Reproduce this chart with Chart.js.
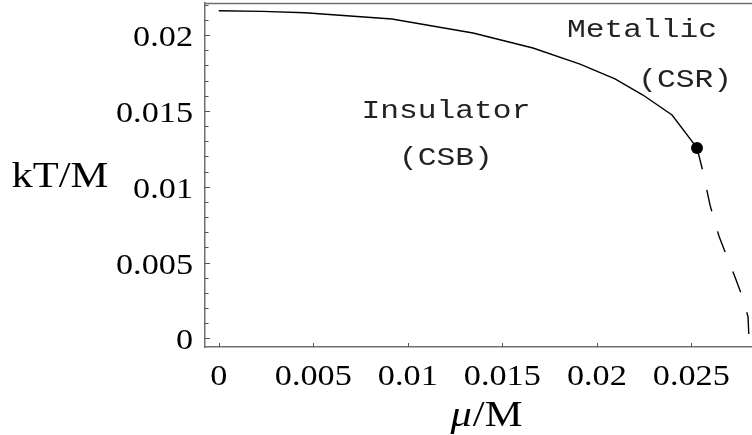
<!DOCTYPE html>
<html>
<head>
<meta charset="utf-8">
<script src="https://cdn.jsdelivr.net/npm/chart.js@4/dist/chart.umd.min.js"></script>
<style>
  html, body { margin: 0; padding: 0; background: #ffffff; }
  #wrap { width: 752px; height: 435px; }
</style>
</head>
<body>
<div id="wrap"><canvas id="c" width="752" height="435"></canvas></div>
<script>
// ---- data ----
const muSolid = [0, 0.0023, 0.00456, 0.00916, 0.01345, 0.01662, 0.01911, 0.02096, 0.02244, 0.02398, 0.0253];
const tSolid  = [0.02161, 0.02157, 0.02148, 0.02106, 0.02014, 0.01915, 0.01809, 0.01711, 0.01605, 0.01473, 0.01256];

const muDash = [0.0253, 0.02562, 0.02599, 0.02646, 0.02689, 0.02731, 0.02773, 0.0280, 0.02805];
const tDash  = [0.01256, 0.01097, 0.00879, 0.00675, 0.00536, 0.00404, 0.00266, 0.00141, 0.0];

const muCrit = [0.0253];
const tCrit  = [0.01256];

const xTicks = [0, 0.005, 0.01, 0.015, 0.02, 0.025];
const xTickLabels = ['0', '0.005', '0.01', '0.015', '0.02', '0.025'];
const yTicks = [0, 0.005, 0.01, 0.015, 0.02];
const yTickLabels = ['0', '0.005', '0.01', '0.015', '0.02'];
const yMinorTicks = [0.001, 0.002, 0.003, 0.004, 0.006, 0.007, 0.008, 0.009, 0.011, 0.012, 0.013, 0.014,
                     0.016, 0.017, 0.018, 0.019, 0.021, 0.022];

const xTitle = ['\u03bc', '/M'];
const yTitle = 'kT/M';

const regionLabels = ['Metallic', '(CSR)', 'Insulator', '(CSB)'];
const regionX = [0.02239, 0.02467, 0.01202, 0.01202];
const regionY = [0.01987, 0.01657, 0.01453, 0.01143];

// ---- helpers ----
const toXY = (xs, ys) => xs.map((x, i) => ({ x: x, y: ys[i] }));
const SERIF = '"Liberation Serif", "Times New Roman", serif';
const MONO = '"Liberation Mono", "Courier New", monospace';
const SX = 1.18;   // horizontal stretch of the reference lettering

function stretchedText(ctx, text, x, y, font, align, sx) {
  ctx.save();
  ctx.font = font;
  ctx.translate(x, y);
  ctx.scale(sx, 1);
  ctx.textAlign = align;
  ctx.textBaseline = 'alphabetic';
  ctx.fillText(text, 0, 0);
  ctx.restore();
}

const decor = {
  id: 'decor',
  afterDraw(chart) {
    const ctx = chart.ctx;
    const xs = chart.scales.x, ys = chart.scales.y;
    const a = chart.chartArea;
    ctx.save();
    // top frame line
    ctx.strokeStyle = '#6e6e6e';
    ctx.lineWidth = 1.5;
    ctx.beginPath();
    ctx.moveTo(a.left, a.top + 0.5);
    ctx.lineTo(a.right, a.top + 0.5);
    ctx.stroke();
    // inward ticks
    ctx.strokeStyle = '#555';
    ctx.lineWidth = 1;
    ctx.beginPath();
    yTicks.forEach(v => {
      const p = Math.round(ys.getPixelForValue(v)) + 0.5;
      ctx.moveTo(a.left, p); ctx.lineTo(a.left + 5, p);
    });
    yMinorTicks.forEach(v => {
      const p = Math.round(ys.getPixelForValue(v)) + 0.5;
      ctx.moveTo(a.left, p); ctx.lineTo(a.left + 3.5, p);
    });
    xTicks.forEach(v => {
      const p = Math.round(xs.getPixelForValue(v)) + 0.5;
      ctx.moveTo(p, a.bottom); ctx.lineTo(p, a.bottom - 4);
    });
    ctx.stroke();

    ctx.fillStyle = '#000';
    yTicks.forEach((v, i) => {
      stretchedText(ctx, yTickLabels[i], 193, ys.getPixelForValue(v) + 11, '29px ' + SERIF, 'right', SX);
    });
    xTicks.forEach((v, i) => {
      stretchedText(ctx, xTickLabels[i], xs.getPixelForValue(v), 385, '29px ' + SERIF, 'center', SX);
    });
    stretchedText(ctx, yTitle, 60, 187, '36px ' + SERIF, 'center', SX);
    ctx.font = 'italic 36px ' + SERIF;
    const w1 = ctx.measureText(xTitle[0]).width;
    ctx.font = '36px ' + SERIF;
    const w2 = ctx.measureText(xTitle[1]).width;
    const total = (w1 + w2) * SX;
    const x0 = 486 - total / 2;
    stretchedText(ctx, xTitle[0], x0, 426, 'italic 36px ' + SERIF, 'left', SX);
    stretchedText(ctx, xTitle[1], x0 + w1 * SX + 1, 426, '36px ' + SERIF, 'left', SX);
    ctx.fillStyle = '#222';
    regionLabels.forEach((t, i) => {
      stretchedText(ctx, t, xs.getPixelForValue(regionX[i]), ys.getPixelForValue(regionY[i]), '25px ' + MONO, 'center', 1.25);
    });
    ctx.restore();
  }
};

new Chart(document.getElementById('c'), {
  type: 'scatter',
  data: {
    datasets: [
      {
        data: toXY(muSolid, tSolid), showLine: true, borderColor: '#000', borderWidth: 1.4,
        pointRadius: 0, tension: 0, fill: false
      },
      {
        data: toXY(muDash, tDash), showLine: true, borderColor: '#000', borderWidth: 1.4,
        borderDash: [22, 21], pointRadius: 0, tension: 0, fill: false
      },
      {
        data: toXY(muCrit, tCrit), showLine: false, pointRadius: 6, pointBackgroundColor: '#000',
        pointBorderColor: '#000', pointBorderWidth: 0
      }
    ]
  },
  options: {
    responsive: false,
    animation: false,
    devicePixelRatio: 1,
    layout: { autoPadding: false, padding: { top: 3, left: 0, right: 0, bottom: 0 } },
    plugins: { legend: { display: false }, tooltip: { enabled: false } },
    scales: {
      x: {
        type: 'linear', min: -0.00073, max: 0.02821,
        grid: { display: false },
        border: { display: true, color: '#6e6e6e', width: 1.5 },
        ticks: { display: false },
        afterFit(s) { s.height = 88; }
      },
      y: {
        type: 'linear', min: -0.00057, max: 0.02212,
        grid: { display: false },
        border: { display: true, color: '#6e6e6e', width: 1.5 },
        ticks: { display: false },
        afterFit(s) { s.width = 205; }
      }
    }
  },
  plugins: [decor]
});
</script>
</body>
</html>
